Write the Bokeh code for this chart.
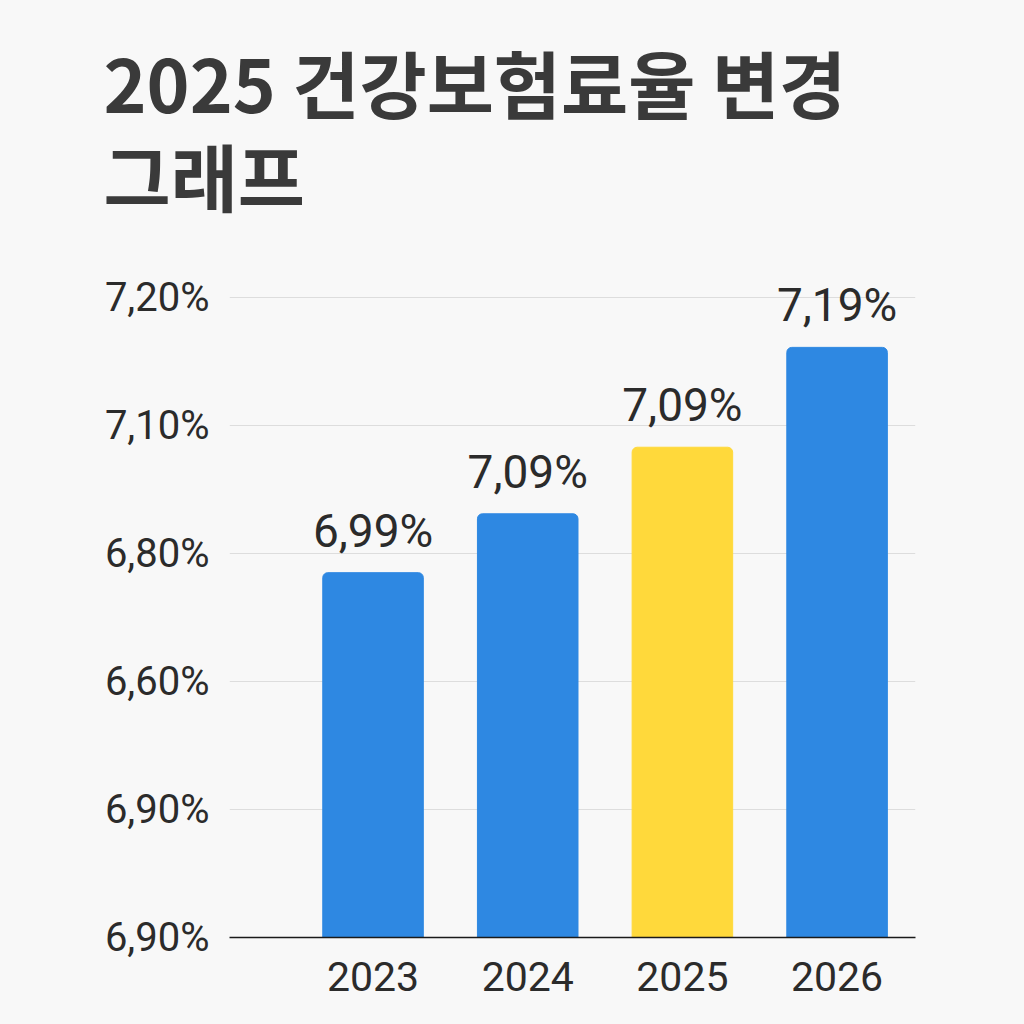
from bokeh.plotting import figure
from bokeh.models import Range1d, FixedTicker, ColumnDataSource, Title
from bokeh.core.properties import value
from bokeh.embed import file_html
from bokeh.resources import INLINE

# ---- data ----
years = ["2023", "2024", "2025", "2026"]
bar_heights = [2.85, 3.31, 3.83, 4.61]          # bar tops in tick-step units above baseline
value_labels = ["6,99%", "7,09%", "7,09%", "7,19%"]
bar_colors = ["#2E88E2", "#2E88E2", "#FFD93B", "#2E88E2"]
tick_positions = [0, 1, 2, 3, 4, 5]
tick_labels = ["6,90%", "6,90%", "6,60%", "6,80%", "7,10%", "7,20%"]
title_text = "2025 건강보험료율 변경\n그래프"

BG = "#f8f8f8"
TXT = "#2b2b2b"

idx = list(range(len(years)))
src = ColumnDataSource(dict(x=idx, top=bar_heights, color=bar_colors, label=value_labels))

p = figure(width=1008, height=1008, output_backend="svg", toolbar_location=None,
           x_range=Range1d(-0.928, 3.507), y_range=Range1d(0, 5.445),
           min_border_left=229, min_border_right=93, min_border_bottom=71, min_border_top=240,
           background_fill_color=BG, border_fill_color=BG, outline_line_color=None)

p.title = Title(text=title_text, text_font="Noto Sans CJK KR", text_font_size="73px",
                text_font_style="bold", text_color="#3a3a3a", align="left", offset=-126,
                text_line_height=0.88, standoff=26)

p.vbar(x="x", top="top", bottom=0, width=0.65, fill_color="color", line_color="color",
       border_radius=(5, 5, 0, 0), source=src)

p.text(x="x", y="top", text="label", source=src, y_offset=-42, text_align="center",
       text_baseline="alphabetic", text_font=value("Roboto"), text_font_size="46px",
       text_color=TXT)

# y axis
ya = p.yaxis[0]
ya.ticker = FixedTicker(ticks=tick_positions)
ya.major_label_overrides = {t: l for t, l in zip(tick_positions, tick_labels)}
ya.axis_line_color = None
ya.major_tick_line_color = None
ya.minor_tick_line_color = None
ya.major_label_text_font = "Roboto"
ya.major_label_text_font_size = "40px"
ya.major_label_text_color = TXT
ya.major_label_standoff = 14

# x axis
xa = p.xaxis[0]
xa.ticker = FixedTicker(ticks=idx)
xa.major_label_overrides = {i: y for i, y in zip(idx, years)}
xa.axis_line_color = "#1a1a1a"
xa.axis_line_width = 1.5
xa.major_tick_line_color = None
xa.minor_tick_line_color = None
xa.major_label_text_font = "Roboto"
xa.major_label_text_font_size = "41px"
xa.major_label_text_color = TXT
xa.major_label_standoff = 18

p.xgrid.grid_line_color = None
p.ygrid.ticker = FixedTicker(ticks=tick_positions)
p.ygrid.grid_line_color = "#dddddd"
p.ygrid.grid_line_width = 1

html = file_html(p, INLINE)
html = html.replace("<body>", '<body style="background:%s">' % BG)
open("out.html", "w").write(html)
